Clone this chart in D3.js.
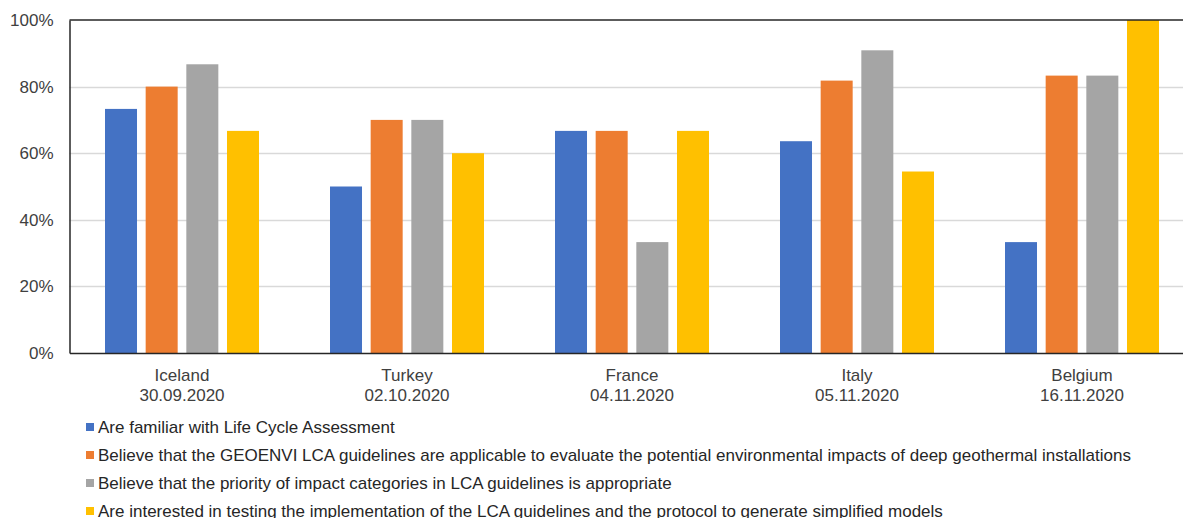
<!DOCTYPE html>
<html>
<head>
<meta charset="utf-8">
<script src="https://d3js.org/d3.v7.min.js"></script>
<style>
  body { margin: 0; background: #fff; }
  svg { display: block; font-family: "Liberation Sans", Arial, sans-serif; }
</style>
</head>
<body>
<svg id="chart" width="1183" height="518"></svg>
<script>
// data
var countries = ["Iceland", "Turkey", "France", "Italy", "Belgium"];
var dates = ["30.09.2020", "02.10.2020", "04.11.2020", "05.11.2020", "16.11.2020"];
var seriesNames = [
  "Are familiar with Life Cycle Assessment",
  "Believe that the GEOENVI LCA guidelines are applicable to evaluate the potential environmental impacts of deep geothermal installations",
  "Believe that the priority of impact categories in LCA guidelines is appropriate",
  "Are interested in testing the implementation of the LCA guidelines and the protocol to generate simplified models"
];
var familiar   = [73.3, 50.0, 66.7, 63.6, 33.3];
var applicable = [80.0, 70.0, 66.7, 81.8, 83.3];
var priority   = [86.7, 70.0, 33.3, 90.9, 83.3];
var testing    = [66.7, 60.0, 66.7, 54.5, 100.0];
var yTicks = [0, 20, 40, 60, 80, 100];
var colors = ["#4472c4", "#ed7d31", "#a5a5a5", "#ffc000"];

var series = [familiar, applicable, priority, testing];

var svg = d3.select("#chart");
var X0 = 69.5, TOP = 20, BOTTOM = 353;
var PLOT_W = 1125;
var FONT = "Liberation Sans, Arial, sans-serif";

var x = d3.scaleBand().domain(countries).range([X0, X0 + PLOT_W]).paddingInner(0).paddingOuter(0);
var xIn = d3.scaleBand().domain(d3.range(4)).range([-77, 77]).paddingInner(0.213).paddingOuter(0);
var y = d3.scaleLinear().domain([0, 100]).range([BOTTOM, TOP]);

// gridlines
svg.append("g")
  .selectAll("line")
  .data(yTicks.filter(function(d){ return d > 0 && d < 100; }))
  .enter()
  .append("line")
  .attr("x1", X0).attr("x2", X0 + PLOT_W)
  .attr("y1", function(d){ return Math.round(y(d)) + 0.5; })
  .attr("y2", function(d){ return Math.round(y(d)) + 0.5; })
  .attr("stroke", "#d9d9d9")
  .attr("stroke-width", 1.5);

// bars
countries.forEach(function(c, ci){
  var cx = x(c) + x.bandwidth() / 2;
  series.forEach(function(s, si){
    svg.append("rect")
      .attr("x", cx + xIn(si))
      .attr("y", y(s[ci]))
      .attr("width", xIn.bandwidth())
      .attr("height", BOTTOM - y(s[ci]))
      .attr("fill", colors[si]);
  });
});

// top border
svg.append("line")
  .attr("x1", X0).attr("x2", X0 + PLOT_W)
  .attr("y1", TOP).attr("y2", TOP)
  .attr("stroke", "#262626").attr("stroke-width", 1.5);

// y axis
var yAxis = svg.append("g")
  .attr("transform", "translate(" + X0 + ",0)")
  .call(d3.axisLeft(y).tickValues(yTicks).tickSize(0).tickPadding(16).tickFormat(function(d){ return d + "%"; }));
yAxis.select(".domain").attr("stroke", "#262626").attr("stroke-width", 1.5);
yAxis.selectAll("text").attr("font-size", 17).attr("fill", "#404040")
  .attr("font-family", FONT);

// x axis
var xAxis = svg.append("g")
  .attr("transform", "translate(0," + BOTTOM + ")")
  .call(d3.axisBottom(x).tickSize(0).tickFormat(""));
xAxis.select(".domain").attr("stroke", "#262626").attr("stroke-width", 1.5);
xAxis.selectAll(".tick").each(function(d, i){
  var t = d3.select(this).select("text")
    .attr("y", 0).attr("dy", null)
    .attr("font-size", 17).attr("fill", "#404040")
    .attr("font-family", FONT);
  t.append("tspan").attr("x", 0).attr("y", 28).text(countries[i]);
  t.append("tspan").attr("x", 0).attr("y", 48).text(dates[i]);
});

// legend
var legend = svg.append("g");
seriesNames.forEach(function(name, i){
  var ly = 427 + i * 28;
  legend.append("rect")
    .attr("x", 86).attr("y", ly - 4).attr("width", 8).attr("height", 8)
    .attr("fill", colors[i]);
  legend.append("text")
    .attr("x", 98).attr("y", ly + 6)
    .attr("font-size", 17).attr("fill", "#262626")
    .text(name);
});
</script>
</body>
</html>
